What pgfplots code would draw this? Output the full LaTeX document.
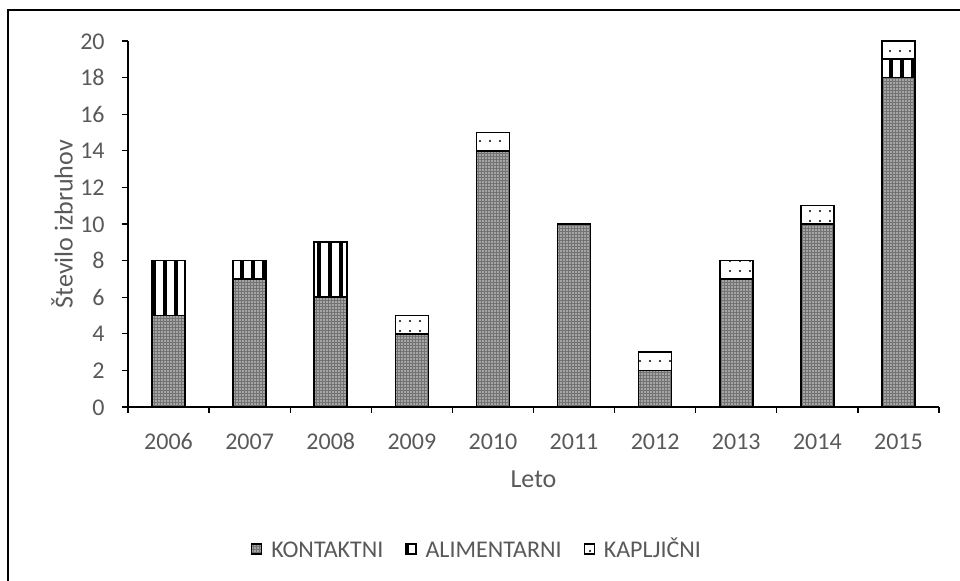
\documentclass[border=0pt]{standalone}
\usepackage{pgfplots}
\pgfplotsset{compat=1.18}
\usepackage{fontspec}
\setmainfont[Numbers=Lining]{Carlito}
\usetikzlibrary{patterns.meta}
\definecolor{txt}{HTML}{595959}
\pgfplotsset{sqleg/.style={legend image code/.code={\draw[##1, line width=0.6pt] (0pt,-2.5pt) rectangle (5pt,2.5pt);}}}
\begin{document}
\begin{tikzpicture}
\begin{axis}[
  at={(0,0)}, anchor=south west,
  scale only axis, width=405.5pt, height=183pt,
  ybar stacked, bar width=16.5pt,
  xmin=-0.5, xmax=9.5, ymin=0, ymax=20,
  enlargelimits=false,
  axis lines*=left,
  axis line style={line width=0.6pt, black},
  xtick={0,...,9},
  xticklabels={2006,2007,2008,2009,2010,2011,2012,2013,2014,2015},
  xtick style={draw=none},
  extra x ticks={-0.5,0.5,...,9.5},
  extra x tick labels={},
  extra x tick style={xtick style={draw=black, line width=0.6pt}},
  ytick={0,2,...,20},
  ytick style={line width=0.6pt, black},
  tick align=outside, major tick length=3pt,
  /pgf/number format/assume math mode=true,
  ticklabel style={font=\fontsize{12}{14}\selectfont, text=txt},
  yticklabel style={anchor=east, inner sep=0pt, xshift=-8.5pt, text height=8.2pt, text depth=0pt},
  xticklabel style={anchor=base, inner sep=0pt, yshift=-18.5pt},
  xlabel={Leto}, ylabel={Število izbruhov},
  label style={font=\fontsize{13}{15}\selectfont, text=txt},
  xlabel style={at={(axis description cs:0.5,-0.197)}, anchor=center},
  ylabel style={at={(axis description cs:-0.0814,0.5)}, anchor=center},
  legend style={at={(axis description cs:0.4316,-0.388)}, anchor=center,
    draw=none, legend columns=3, font=\fontsize{12}{14}\selectfont, text=txt,
    nodes={text height=8.5pt, text depth=0pt},
    /tikz/every odd column/.append style={column sep=2.5pt},
    /tikz/every even column/.append style={column sep=9pt}},
]
\addplot[sqleg, draw=black, line width=0.8pt, fill=black!55,
  postaction={pattern={Dots[distance=1.5pt, radius=0.4pt]}, pattern color=white!85!black}]
  coordinates {(0,5) (1,7) (2,6) (3,4) (4,14) (5,10) (6,2) (7,7) (8,10) (9,18)};
\addplot[sqleg, draw=black, line width=0.8pt, fill=white,
  postaction={pattern={Lines[angle=90, distance=5.5pt, line width=2pt]}, pattern color=black}]
  coordinates {(0,3) (1,1) (2,3) (3,0) (4,0) (5,0) (6,0) (7,0) (8,0) (9,1)};
\addplot[sqleg, draw=black, line width=0.8pt, fill=white,
  postaction={pattern={Dots[distance=5pt, radius=0.55pt]}, pattern color=black}]
  coordinates {(0,0) (1,0) (2,0) (3,1) (4,1) (5,0) (6,1) (7,1) (8,1) (9,1)};
\legend{KONTAKTNI, ALIMENTARNI, KAPLJIČNI}
\end{axis}
\draw[line width=0.85pt, black] (-60pt,-90pt) -- (-60pt,198.5pt) -- (420pt,198.5pt);
\pgfresetboundingbox
\useasboundingbox (-64pt,-87pt) rectangle (416pt,203.5pt);
\end{tikzpicture}
\end{document}
